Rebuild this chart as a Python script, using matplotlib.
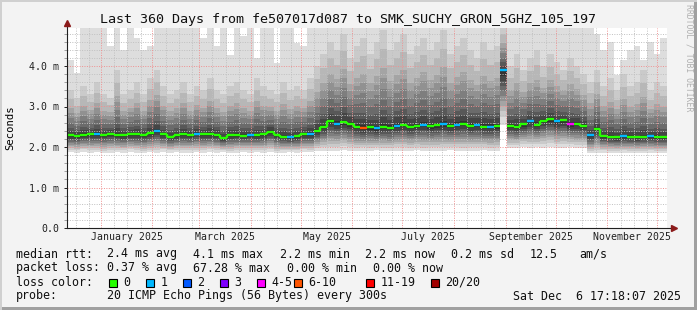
import numpy as np
import matplotlib
matplotlib.use("Agg")
import matplotlib.pyplot as plt
import matplotlib.dates as mdates
from matplotlib.patches import Rectangle
from datetime import datetime, timedelta

plt.rcParams['font.family'] = 'DejaVu Sans Mono'

start = datetime(2024, 12, 11, 17, 18, 7)
span_days = 360
bin_days = 4  # one value per 4 days, 90 bins

# median rtt per bin (ms)
median = [2.29, 2.27, 2.30, 2.31, 2.32, 2.30, 2.33, 2.30, 2.29, 2.32,
          2.31, 2.30, 2.34, 2.39, 2.31, 2.25, 2.29, 2.32, 2.30, 2.33,
          2.31, 2.32, 2.30, 2.22, 2.29, 2.30, 2.28, 2.30, 2.29, 2.31,
          2.38, 2.30, 2.25, 2.24, 2.26, 2.31, 2.32, 2.40, 2.50, 2.63,
          2.58, 2.61, 2.57, 2.50, 2.47, 2.49, 2.46, 2.50, 2.48, 2.53,
          2.55, 2.50, 2.53, 2.55, 2.51, 2.54, 2.56, 2.52, 2.55, 2.58,
          2.53, 2.55, 2.50, 2.50, 2.51, 3.90, 2.52, 2.50, 2.56, 2.63,
          2.55, 2.65, 2.68, 2.63, 2.66, 2.56, 2.57, 2.52, 2.29, 2.45,
          2.27, 2.25, 2.24, 2.26, 2.25, 2.24, 2.25, 2.26, 2.25, 2.24]

# loss class per bin: index into loss_labels
loss = [0, 0, 0, 0, 1, 0, 0, 0, 0, 0,
        0, 0, 0, 1, 0, 0, 0, 0, 0, 1,
        0, 0, 0, 0, 0, 0, 0, 1, 0, 0,
        0, 0, 0, 1, 0, 0, 1, 0, 0, 0,
        1, 0, 0, 0, 5, 0, 1, 0, 0, 1,
        0, 0, 0, 1, 0, 0, 1, 0, 1, 0,
        0, 1, 0, 1, 0, 1, 0, 0, 0, 1,
        0, 0, 0, 1, 0, 4, 0, 0, 1, 0,
        0, 0, 0, 1, 0, 0, 0, 1, 0, 0]

# fastest ping per bin (ms)
ping_min = [1.87, 1.86, 1.88, 1.86, 1.87, 1.85, 1.86, 1.87, 1.86, 1.88,
            1.86, 1.85, 1.87, 1.86, 1.88, 1.86, 1.87, 1.85, 1.86, 1.87,
            1.86, 1.88, 1.86, 1.87, 1.85, 1.86, 1.87, 1.86, 1.88, 1.86,
            1.87, 1.85, 1.86, 1.87, 1.86, 1.88, 1.87, 1.90, 1.91, 1.89,
            1.90, 1.92, 1.90, 1.89, 1.91, 1.90, 1.92, 1.90, 1.89, 1.91,
            1.90, 1.90, 1.92, 1.89, 1.91, 1.90, 1.90, 1.92, 1.90, 1.89,
            1.91, 1.90, 1.92, 1.90, 1.91, 2.55, 1.97, 1.98, 2.00, 1.97,
            1.99, 1.98, 2.00, 1.97, 1.98, 1.99, 1.97, 1.98, 1.85, 1.84,
            1.86, 1.85, 1.84, 1.86, 1.85, 1.84, 1.85, 1.86, 1.84, 1.85]

# second slowest ping per bin (ms)
ping_p95 = [3.4, 3.2, 3.5, 3.3, 3.6, 3.3, 3.2, 3.9, 3.3, 3.4,
            3.6, 3.3, 3.7, 3.9, 3.5, 3.3, 3.4, 3.6, 3.3, 3.5,
            3.4, 3.7, 3.4, 3.3, 3.5, 3.6, 3.4, 3.3, 3.7, 3.5,
            3.4, 3.3, 3.6, 3.4, 3.5, 3.4, 3.7, 4.0, 4.3, 4.6,
            4.4, 4.8, 4.2, 4.5, 4.7, 4.3, 4.6, 4.9, 4.4, 4.6,
            4.8, 4.3, 4.5, 4.7, 4.4, 4.6, 4.9, 4.3, 4.5, 4.7,
            4.4, 4.2, 4.6, 4.4, 4.5, 5.0, 4.0, 4.3, 3.9, 4.2,
            4.4, 4.0, 4.3, 4.1, 3.9, 4.2, 4.0, 3.8, 3.6, 3.9,
            3.5, 3.7, 3.4, 3.8, 3.5, 3.6, 3.9, 3.4, 3.6, 3.5]

# slowest ping per bin (ms)
ping_max = [4.15, 3.83, 5.0, 5.0, 5.0, 5.0, 4.5, 5.0, 4.4, 5.0,
            4.7, 4.4, 4.5, 5.0, 5.0, 5.0, 5.0, 5.0, 5.0, 5.0,
            4.7, 5.0, 4.5, 5.0, 4.27, 5.0, 4.75, 5.0, 4.2, 5.0,
            5.0, 4.07, 5.0, 5.0, 4.57, 4.5, 5.0, 5.0, 5.0, 5.0,
            5.0, 5.0, 5.0, 5.0, 5.0, 5.0, 5.0, 5.0, 5.0, 5.0,
            5.0, 5.0, 5.0, 5.0, 5.0, 5.0, 5.0, 5.0, 5.0, 5.0,
            5.0, 5.0, 5.0, 5.0, 5.0, 5.0, 5.0, 5.0, 5.0, 5.0,
            5.0, 5.0, 5.0, 5.0, 5.0, 5.0, 5.0, 5.0, 5.0, 4.8,
            4.4, 4.6, 3.78, 4.15, 4.4, 4.5, 4.15, 4.6, 4.3, 4.7]

low_shape = [0.0, 0.14, 0.25, 0.35, 0.44, 0.53, 0.62, 0.71, 0.80, 0.90]   # ping 1..10, min -> median
high_shape = [0.03, 0.10, 0.17, 0.28, 0.39, 0.50, 0.60, 0.80, 1.0]         # ping 11..19, median -> p95

loss_labels = ['0', '1', '2', '3', '4-5', '6-10', '11-19', '20/20']
loss_colors = ['#26ff00', '#00b8ff', '#0059ff', '#7e00ff', '#ff00ff', '#ff5500', '#ff0000', '#a10000']

median = np.array(median)
ping_min = np.array(ping_min)
ping_p95 = np.array(ping_p95)
ping_max = np.array(ping_max)

pings = [ping_min + f * (median - ping_min) for f in low_shape]
pings += [median + f * (ping_p95 - median) for f in high_shape]
pings.append(ping_max)

t0 = mdates.date2num(start)
t1 = mdates.date2num(start + timedelta(days=span_days))
edges = t0 + np.arange(len(median) + 1) * bin_days
ytop = 200 / 40.5

W, H = 697, 310
fig = plt.figure(figsize=(W / 100, H / 100), dpi=100, facecolor='#f3f3f3')
ax = fig.add_axes([67 / W, 1 - 228 / H, 600 / W, 200 / H])
ax.set_facecolor('white')
ax.set_xlim(t0, t1)
ax.set_ylim(0, ytop)

# smoke: nested bands, outermost lightest
for i in range(10):
    c = int(190 / 10 * (10 - (i + 1))) + 50
    grey = '#%02x%02x%02x' % (c, c, c)
    ax.stairs(np.minimum(pings[19 - i], ytop), edges, baseline=pings[i],
              fill=True, color=grey, lw=0, zorder=1)

# grid
dots = (0, (1, 1.5))
for v in np.arange(0.2, ytop, 0.2):
    major = abs(v - round(v)) < 1e-6
    ax.axhline(v, color='#f09090' if major else '#c0c0c0', lw=0.7, ls=dots, zorder=3)

month_starts = [datetime(2024 + (m // 12), m % 12 + 1, 1) for m in range(11, 25)]
for ms in month_starts:
    x = mdates.date2num(ms)
    if t0 < x < t1:
        ax.axvline(x, color='#f09090', lw=0.7, ls=dots, zorder=3)
    for d in (8, 16, 24):
        xm = x + d
        if t0 < xm < t1:
            ax.axvline(xm, color='#c0c0c0', lw=0.7, ls=dots, zorder=3)

# median line coloured by loss; steps join only within the same loss colour
lw_med = 1.7
for i, l in enumerate(loss):
    ax.hlines(median[i], edges[i], edges[i + 1], color=loss_colors[l], lw=lw_med, zorder=4 + (l > 0))
    if i > 0 and loss[i - 1] == l:
        ax.vlines(edges[i], median[i - 1], median[i], color=loss_colors[l], lw=lw_med, zorder=4)

# axes
for s in ax.spines.values():
    s.set_visible(False)
ax.plot([0, 1.008], [0, 0], color='#202020', lw=0.8, transform=ax.transAxes, clip_on=False, zorder=6)
ax.plot([0, 0], [0, 1.02], color='#202020', lw=0.8, transform=ax.transAxes, clip_on=False, zorder=6)
ax.plot([1.012], [0], marker='>', color='#8b1a1a', ms=4, transform=ax.transAxes, clip_on=False, zorder=7)
ax.plot([0], [1.025], marker='^', color='#8b1a1a', ms=4, transform=ax.transAxes, clip_on=False, zorder=7)

ax.set_yticks([0, 1, 2, 3, 4])
ax.set_yticklabels(['0.0', '1.0 m', '2.0 m', '3.0 m', '4.0 m'])
ax.set_yticks(np.arange(0.2, ytop, 0.2), minor=True)
ax.tick_params(axis='y', which='major', length=2, width=0.7, pad=3.5, labelsize=7.1, colors='#202020')
ax.tick_params(axis='y', which='minor', length=2, width=0.5, colors='#808080')

mid_months = []
labels = []
for m in (1, 3, 5, 7, 9, 11):
    a = mdates.date2num(datetime(2025, m, 1))
    b = mdates.date2num(datetime(2025, m + 1, 1))
    mid_months.append((a + b) / 2)
    labels.append(datetime(2025, m, 1).strftime('%B %Y'))
ax.set_xticks(mid_months)
ax.set_xticklabels(labels)
ax.tick_params(axis='x', which='major', length=0, pad=3, labelsize=7.1, colors='#202020')

fig.text(348 / W, 1 - 19 / H, 'Last 360 Days from fe507017d087 to SMK_SUCHY_GRON_5GHZ_105_197',
         ha='center', va='center', fontsize=9.6, color='#101010')
fig.text(10 / W, 1 - 128 / H, 'Seconds', rotation=90, ha='center', va='center', fontsize=7.6)
fig.text(689 / W, 1 - 4 / H, 'RRDTOOL / TOBI OETIKER', rotation=270, ha='center', va='top',
         fontsize=5.9, color='#b0b0b0')

fs = 8.4
def put(x, y, s):
    fig.text(x / W, 1 - y / H, s, ha='left', va='center', fontsize=fs, color='#101010')

put(16, 254, 'median rtt:')
put(107, 254, '2.4 ms avg')
put(193, 254, '4.1 ms max')
put(280, 254, '2.2 ms min')
put(365, 254, '2.2 ms now')
put(451, 254, '0.2 ms sd')
put(530, 254, '12.5')
put(579, 254, 'am/s')

put(16, 268, 'packet loss:')
put(107, 268, '0.37 % avg')
put(193, 268, '67.28 % max')
put(287, 268, '0.00 % min')
put(373, 268, '0.00 % now')

put(16, 282, 'loss color:')
box_x = [108.5, 145.5, 182.5, 219.5, 256.5, 293.5, 365.5, 430.5]
for bx, lab, col in zip(box_x, loss_labels, loss_colors):
    fig.patches.append(Rectangle((bx / W, 1 - 286.5 / H), 8 / W, 8 / H, transform=fig.transFigure,
                                 facecolor=col, edgecolor='black', lw=0.8))
    put(bx + 15, 282, lab)

put(16, 296, 'probe:')
put(107, 296, '20 ICMP Echo Pings (56 Bytes) every 300s')
put(513, 296, 'Sat Dec  6 17:18:07 2025')

# frame
fig.patches.append(Rectangle((0, 0), 1, 3 / H, transform=fig.transFigure, color='#a0a0a0', lw=0))
fig.patches.append(Rectangle((1 - 3 / W, 0), 3 / W, 1, transform=fig.transFigure, color='#a0a0a0', lw=0))
fig.patches.append(Rectangle((0, 0), 2 / W, 1, transform=fig.transFigure, color='#d0d0d0', lw=0))
fig.patches.append(Rectangle((0, 1 - 2 / H), 1, 2 / H, transform=fig.transFigure, color='#d0d0d0', lw=0))

fig.savefig('out.png', dpi=100, facecolor=fig.get_facecolor())
